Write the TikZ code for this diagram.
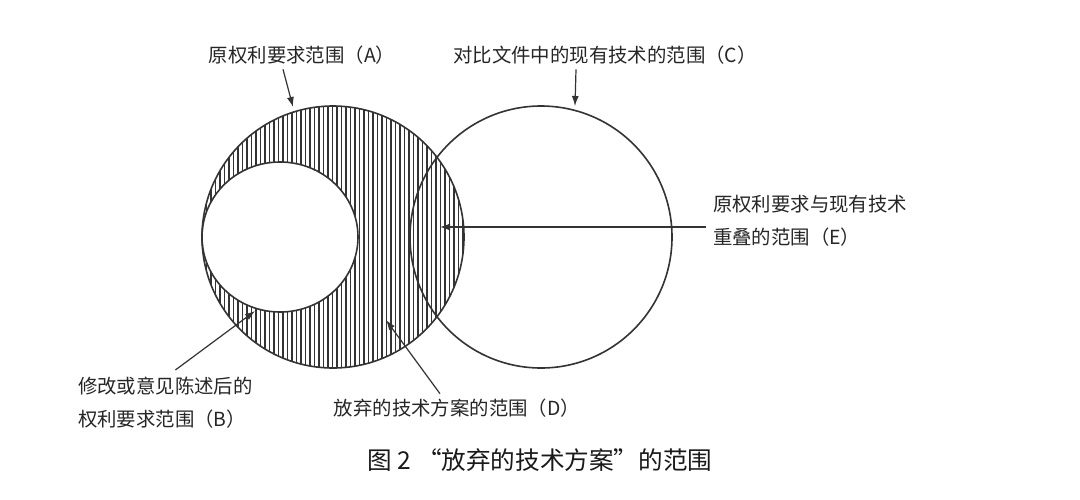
\documentclass[tikz,border=0pt]{standalone}
\usepackage{fontspec}
\newfontfamily\cjk{Noto Sans CJK SC}
\usetikzlibrary{arrows.meta,positioning}

\begin{document}
\begin{tikzpicture}[
  x=0.5pt, y=-0.5pt,
  ring/.style={draw=black!80, line width=0.8pt},
  hatch/.style={draw=black!80, line width=0.6pt},
  lab/.style={font=\cjk\fontsize{9.7}{16.5}\selectfont, text=black!85, align=left},
  figcap/.style={font=\cjk\fontsize{12.3}{14}\selectfont, text=black!90},
  arrow/.style={-{Latex[length=5pt,width=3.5pt]}, draw=black!80, line width=0.6pt}
]
\useasboundingbox[fill=white] (0,0) rectangle (1080,499);

% hatched part of A
\begin{scope}
  \clip (333,237) circle [radius=131];
  \foreach \x in {202,206.5,...,466}
    \draw[hatch] (\x,100) -- (\x,375);
\end{scope}
\fill[white] (280,237) ellipse [x radius=78, y radius=75];

% A, B, C
\draw[ring] (333,237) circle [radius=131];
\draw[ring] (280,237) ellipse [x radius=78, y radius=75];
\draw[ring] (541,237) circle [radius=131];

\coordinate (tipA) at (293,107);
\coordinate (tipC) at (575,106);
\coordinate (tipE) at (440,227);
\coordinate (tipB) at (255,311);
\coordinate (tipD) at (386,320);

\node[lab] (labA) at (302,55) {原权利要求范围（A）};
\node[lab] (labC) at (605,55) {对比文件中的现有技术的范围（C）};
\node[lab, anchor=west] (labE) at (706,221) {原权利要求与现有技术\\重叠的范围（E）};
\node[lab, anchor=north west] (labB) at (71,370) {修改或意见陈述后的\\权利要求范围（B）};
\node[lab] (labD) at (457,408) {放弃的技术方案的范围（D）};
\node[figcap] (figcap) at (540,460) {图 2 “放弃的技术方案”的范围};

\draw[arrow] ([xshift=-9.5pt, yshift=1pt]labA.south) -- (tipA);
\draw[arrow] ([xshift=-14.5pt, yshift=1pt]labC.south) -- (tipC);
\draw[arrow] (labE.west |- tipE) -- (tipE);
\draw[arrow] ([xshift=5pt]labB.north) -- (tipB);
\draw[arrow] ([xshift=-8.5pt, yshift=-1pt]labD.north) -- (tipD);
\end{tikzpicture}
\end{document}
